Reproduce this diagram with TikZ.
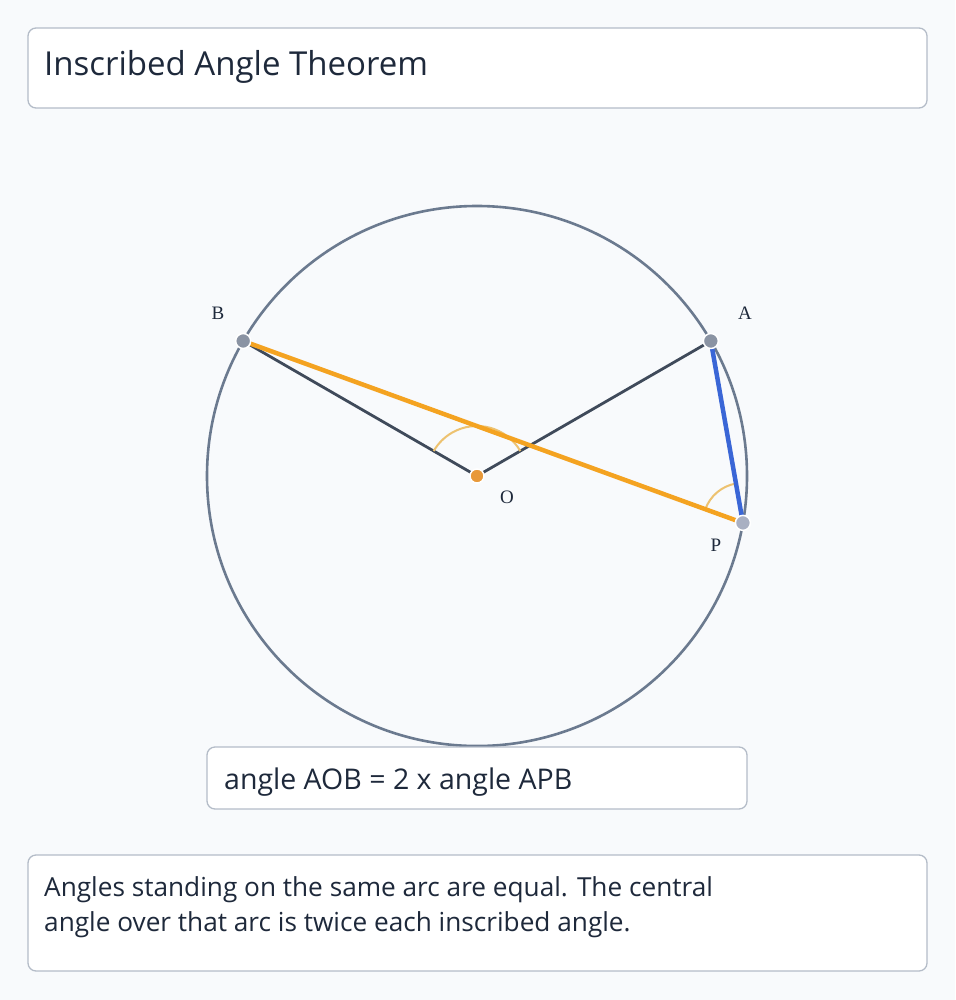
\documentclass[tikz,border=0pt]{standalone}
\usepackage{fontspec}
\setmainfont{Open Sans}
\newfontfamily\lblfont{Liberation Serif}
\definecolor{bgc}{HTML}{F8FAFC}
\definecolor{boxborder}{HTML}{B4BCC8}
\definecolor{txt}{HTML}{1E293B}
\definecolor{circcol}{HTML}{6B7A8F}
\definecolor{radcol}{HTML}{3F4A5A}
\definecolor{chordPB}{HTML}{F4A321}
\definecolor{chordAP}{HTML}{3A66D6}
\definecolor{angarc}{HTML}{EDC270}
\definecolor{odot}{HTML}{E8993A}
\definecolor{abdot}{HTML}{8A93A3}
\definecolor{pdot}{HTML}{A9B0C2}
\begin{document}
\begin{tikzpicture}[x=1pt,y=-1pt,
  panel/.style={draw=boxborder,line width=1.3pt,fill=white,rounded corners=8pt},
  ptlabel/.style={font=\lblfont\fontsize{19}{22}\selectfont,text=txt,inner sep=0pt},
  ptdot/.style={circle,draw=white,line width=1.5pt,inner sep=0pt,minimum size=15pt},
  bodytext/.style={anchor=base west,inner sep=0pt,text=txt,font=\fontsize{26.2}{35}\selectfont}]
\useasboundingbox[fill=bgc] (0,0) rectangle (955,1000);
% title
\draw[panel] (28,28) rectangle (927,108);
\node[anchor=base west,inner sep=0pt,text=txt,font=\fontsize{33}{38}\selectfont] (title) at (44,76) {Inscribed Angle Theorem};
% circle
\coordinate (Oc) at (477,476);
\draw[circcol,line width=2.6pt] (Oc) circle[radius=270];
\path (Oc) ++(30:270 and -270) coordinate (A);
\path (Oc) ++(150:270 and -270) coordinate (B);
\path (Oc) ++(-10:270 and -270) coordinate (P);
% radii
\draw[radcol,line width=2.8pt] (B) -- (Oc) -- (A);
% angle arcs
\draw[angarc,line width=2pt] (Oc) ++(30:50 and -50) arc[start angle=30,end angle=150,x radius=50,y radius=-50];
\draw[angarc,line width=2pt] (P) ++(100:40 and -40) arc[start angle=100,end angle=160,x radius=40,y radius=-40];
% chords
\draw[chordPB,line width=4.5pt] (P) -- (B);
\draw[chordAP,line width=4.5pt] (A) -- (P);
% dots
\node[ptdot,fill=odot,minimum size=14pt] (O) at (Oc) {};
\node[ptdot,fill=abdot] (Ad) at (A) {};
\node[ptdot,fill=abdot] (Bd) at (B) {};
\node[ptdot,fill=pdot] (Pd) at (P) {};
% labels
\node[ptlabel] (lB) at (218,313) {B};
\node[ptlabel] (lA) at (745,313) {A};
\node[ptlabel] (lO) at (507,497) {O};
\node[ptlabel] (lP) at (716,545) {P};
% formula box
\draw[panel] (207,747) rectangle (747,809);
\node[anchor=base west,inner sep=0pt,text=txt,font=\fontsize{28.5}{32}\selectfont] (formula) at (224,789) {angle AOB = 2 x angle APB};
% description box
\draw[panel] (28,855) rectangle (927,971);
\node[bodytext] (desc1) at (44,896) {Angles standing on the same arc are equal. The central};
\node[bodytext] (desc2) at (44,931) {angle over that arc is twice each inscribed angle.};
\end{tikzpicture}
\end{document}
